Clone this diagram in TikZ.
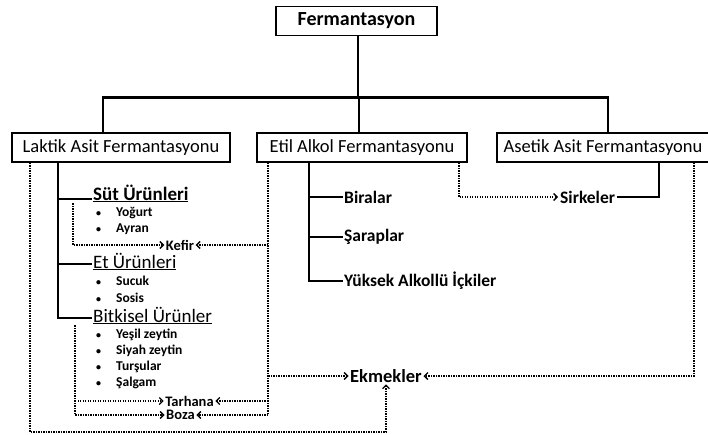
\documentclass[tikz,border=0pt]{standalone}
\usepackage{fontspec}
\setmainfont{Carlito}
\usetikzlibrary{positioning, arrows.meta, calc}

\newcommand{\blt}{\makebox[22pt][l]{\hspace{2pt}{\fontsize{10}{10}\selectfont\textbullet}}}

\begin{document}
\begin{tikzpicture}[x=1pt, y=-1pt,
    box/.style={rectangle, draw, line width=1.5pt, minimum height=29pt, inner sep=0pt, font=\fontsize{18.5}{19}\selectfont},
    tree/.style={line width=2.8pt},
    dots/.style={line width=1.8pt, dash pattern=on 1.4pt off 1.1pt},
    arrow/.style={dots, -{Straight Barb[length=3.5pt, width=7pt, line width=1.3pt]}},
    head/.style={anchor=base west, inner sep=1pt, font=\fontsize{19}{20}\selectfont},
    item/.style={anchor=west, inner sep=0pt, font=\fontsize{13.5}{14}\selectfont\bfseries},
    prod/.style={anchor=west, inner sep=1pt, font=\fontsize{17.5}{18}\selectfont\bfseries},
    tag/.style={inner sep=1.5pt, font=\fontsize{14.5}{15}\selectfont\bfseries}
]
    \useasboundingbox (0,0) rectangle (708,434);

    % boxes
    \node[box, minimum width=161pt, font=\fontsize{20}{21}\selectfont\bfseries] (fer) at (356.5,21) {Fermantasyon};
    \node[box, minimum width=218pt] (lak) at (121,147.5) {Laktik Asit Fermantasyonu};
    \node[box, minimum width=210pt] (eti) at (362,147.5) {Etil Alkol Fermantasyonu};
    \node[box, minimum width=212pt] (ase) at (603,147.5) {Asetik Asit Fermantasyonu};

    \draw[tree] ([xshift=1.5]fer.south) -- ++(0,61) coordinate (bus);
    \draw[tree] ([xshift=-18]lak.north) |- (bus) -| ([xshift=5]ase.north);
    \draw[tree] ([xshift=-3]eti.north) |- (bus);

    % laktik asit
    \node[head, font=\fontsize{19}{20}\selectfont\bfseries] (sut) at (92,200) {\underline{Süt Ürünleri}};
    \node[item] (yog) at (94,213) {\blt Yoğurt};
    \node[item] (ayr) at (94,229) {\blt Ayran};
    \node[head] (et) at (92,268) {\underline{Et Ürünleri}};
    \node[item] (suc) at (94,281) {\blt Sucuk};
    \node[item] (sos) at (94,298) {\blt Sosis};
    \node[head] (bit) at (92,322) {\underline{Bitkisel Ürünler}};
    \node[item] (yes) at (94,335) {\blt Yeşil zeytin};
    \node[item] (siy) at (94,351) {\blt Siyah zeytin};
    \node[item] (tur) at (94,367) {\blt Turşular};
    \node[item] (sal) at (94,383) {\blt Şalgam};

    \coordinate (lt) at ([xshift=-63]lak.south);
    \coordinate (sutl) at ([yshift=1]sut.base west);
    \coordinate (etl) at ([yshift=4]et.base west);
    \coordinate (bitl) at ([yshift=4]bit.base west);
    \draw[tree] (lt) |- (bitl);
    \draw[tree] (lt |- sutl) -- (sutl);
    \draw[tree] (lt |- etl) -- (etl);

    % etil alkol
    \node[prod] (bir) at (343,197) {Biralar};
    \node[prod] (sar) at (343,237) {Şaraplar};
    \node[prod] (yuk) at (343,281) {Yüksek Alkollü İçkiler};

    \coordinate (et2) at ([xshift=-53]eti.south);
    \draw[tree] (et2) |- (yuk.west);
    \draw[tree] (et2 |- bir.west) -- (bir.west);
    \draw[tree] (et2 |- sar.west) -- (sar.west);

    % products
    \node[tag] (kef) at (180,245) {Kefir};
    \node[tag] (tar) at (189.5,401) {Tarhana};
    \node[tag] (boz) at (180.5,415) {Boza};
    \node[prod, inner sep=2pt] (sir) at (558,197) {Sirkeler};
    \node[tag, font=\fontsize{18.5}{19}\selectfont\bfseries] (ekm) at (386,376) {Ekmekler};

    \draw[tree] (sir.east) -| ([xshift=56]ase.south);

    % dotted links
    \draw[arrow] ([xshift=-91]lak.south) |- ([yshift=-56]ekm.center) -- (ekm.south);
    \draw[arrow] ([xshift=-19]sut.south west) |- (kef.west);
    \coordinate (bd) at ([xshift=-17]bit.south west);
    \draw[arrow] (bd) |- (boz.west);
    \draw[arrow] (bd |- tar.west) -- (tar.west);

    \coordinate (ed) at ([xshift=12]eti.south west);
    \draw[arrow] (ed) |- (boz.east);
    \draw[arrow] (ed |- kef.east) -- (kef.east);
    \draw[arrow] (ed |- ekm.west) -- (ekm.west);
    \draw[arrow] (ed |- tar.east) -- (tar.east);

    \draw[arrow] ([xshift=-9]eti.south east) |- (sir.west);
    \draw[arrow] ([xshift=-16]ase.south east) |- (ekm.east);
\end{tikzpicture}
\end{document}
